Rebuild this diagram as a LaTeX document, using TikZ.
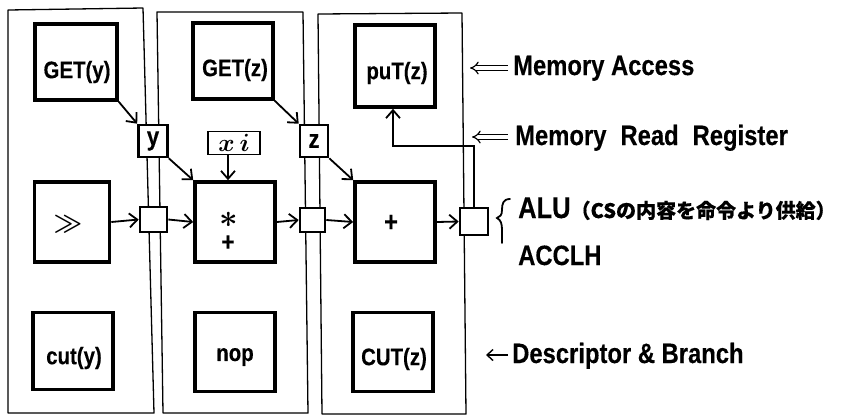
\documentclass[tikz,border=0pt]{standalone}
\usepackage{amsmath}
\usepackage{fontspec}
\setmainfont[FakeStretch=0.85,FakeBold=0.3]{Liberation Sans}
\newfontfamily\jpfont[FakeBold=0.3]{Noto Sans CJK JP}
\usetikzlibrary{arrows.meta}
\begin{document}
\begin{tikzpicture}[x=1pt,y=-1pt,
  panel/.style={line width=1.3pt, line join=round},
  bigbox/.style={draw, line width=3.6pt, inner sep=0pt},
  smallbox/.style={draw, fill=white, line width=2.6pt, inner sep=0pt},
  lbl/.style={inner sep=0pt, font=\fontsize{24}{24}\bfseries\selectfont},
  note/.style={inner sep=0pt, anchor=base west, font=\fontsize{28}{28}\bfseries\selectfont},
  flow/.style={line width=1.8pt, -{Straight Barb[length=8pt,width=14pt,line width=1.8pt]}},
  dbl/.style={double, double distance=3.2pt, line width=1.2pt, -{Implies}},
  sgl/.style={line width=1.4pt, -{Straight Barb[length=6pt,width=11pt,line width=1.4pt]}},
]
\useasboundingbox (0,0) rectangle (855,416);

% panels
\draw[panel] (8,10) -- (143,8) -- (154,413) -- (8,413) -- cycle;
\draw[panel] (157,12) -- (303,12) -- (308,413) -- (163,413) -- cycle;
\draw[panel] (318,14) -- (462,13) -- (466,414) -- (322,414) -- cycle;

% big boxes
\node[bigbox, minimum width=82pt, minimum height=76pt] (gety) at (76,62) {};
\node[bigbox, minimum width=80pt, minimum height=76pt] (getz) at (233,61) {};
\node[bigbox, minimum width=80pt, minimum height=82pt] (putz) at (395,66) {};
\node[bigbox, minimum width=75pt, minimum height=80pt] (shr) at (72,222) {};
\node[bigbox, minimum width=80pt, minimum height=80pt] (mul) at (235,222) {};
\node[bigbox, minimum width=80pt, minimum height=80pt] (plus) at (395,222) {};
\node[bigbox, minimum width=80pt, minimum height=77pt] (cuty) at (73,351) {};
\node[bigbox, minimum width=80pt, minimum height=79pt] (nop) at (235,352) {};
\node[bigbox, minimum width=80pt, minimum height=79pt] (cutz) at (393,352) {};

% box texts
\node[lbl] (getyt) at (77,72) {GET(y)};
\node[lbl] (getzt) at (235,70) {GET(z)};
\node[lbl] (putzt) at (397,73) {puT(z)};
\node[lbl] (shrt) at (68,224) {$\boldsymbol{\gg}$};
\node[lbl] (mulst) at (229,220) {\scalebox{1.3}{$\boldsymbol{\ast}$}};
\node[lbl, font=\fontsize{26}{26}\bfseries\selectfont] (mulpt) at (228,243) {+};
\node[lbl, font=\fontsize{28}{28}\bfseries\selectfont] (plust) at (391,223) {+};
\node[lbl] (cutyt) at (74,358) {cut(y)};
\node[lbl] (nopt) at (235,357) {nop};
\node[lbl] (cutzt) at (394,359) {CUT(z)};

% small boxes
\node[smallbox, minimum width=29pt, minimum height=32pt, font=\fontsize{26}{26}\bfseries\selectfont] (ybox) at (153,141) {y};
\node[smallbox, minimum width=28pt, minimum height=32pt, font=\fontsize{26}{26}\bfseries\selectfont] (zbox) at (314,141) {z};
\node[smallbox, line width=1.6pt, minimum width=52pt, minimum height=23pt, font=\fontsize{24}{24}\selectfont] (xi) at (234,143) {$\boldsymbol{x\,i}$};
\node[smallbox, minimum width=27pt, minimum height=25pt] (s1) at (153.5,219.5) {};
\node[smallbox, minimum width=25pt, minimum height=24pt] (s2) at (312.5,220) {};
\node[smallbox, minimum width=28pt, minimum height=27pt] (s3) at (474,221.5) {};

% connectors
\draw[flow] (gety.south east) -- (ybox.north west);
\draw[flow] (getz.south east) -- (zbox.north west);
\draw[flow] (ybox.south east) -- (mul.north west);
\draw[flow] (zbox.south east) -- (plus.north west);
\draw[flow] ([xshift=-6pt]xi.south) -- ([xshift=-6pt]xi.south |- mul.north);
\draw[flow] (shr.east) -- (s1.west);
\draw[flow] (s1.east) -- (mul.west);
\draw[flow] (mul.east) -- (s2.west);
\draw[flow] (s2.east) -- (plus.west);
\draw[flow] (plus.east) -- (s3.west);
\coordinate (mrr) at (393,146);
\draw[flow] (s3.north) |- (mrr) -- (mrr |- putz.south);

% right-hand notes
\node[note] (ma) at (513,75) {Memory Access};
\coordinate (maTip) at (470,68);
\draw[dbl] ([xshift=-5pt]ma.west |- maTip) -- (maTip);

\node[note] (mr) at (515,145) {Memory\hspace{0.5em}Read\hspace{0.5em}Register};
\coordinate (mrTip) at (472,137);
\draw[dbl] ([xshift=-7pt]mr.west |- mrTip) -- (mrTip);

\draw[line width=1.8pt, line cap=round] (510,199) .. controls (503,199) and (502,204) .. (502,210)
  .. controls (502,215) and (500,217) .. (497,218)
  .. controls (501,220) and (502,224) .. (502,230) -- (502,243);
\node[note, font=\fontsize{30}{30}\bfseries\selectfont] (alu) at (518,218)
  {ALU{\jpfont\bfseries\fontsize{20}{20}\selectfont （CSの内容を命令より供給）}};
\node[note] (acc) at (518,265) {ACCLH};

\node[note] (db) at (512,363) {Descriptor \& Branch};
\coordinate (dbTip) at (486,355);
\draw[sgl] ([xshift=-4pt]db.west |- dbTip) -- (dbTip);
\end{tikzpicture}
\end{document}
